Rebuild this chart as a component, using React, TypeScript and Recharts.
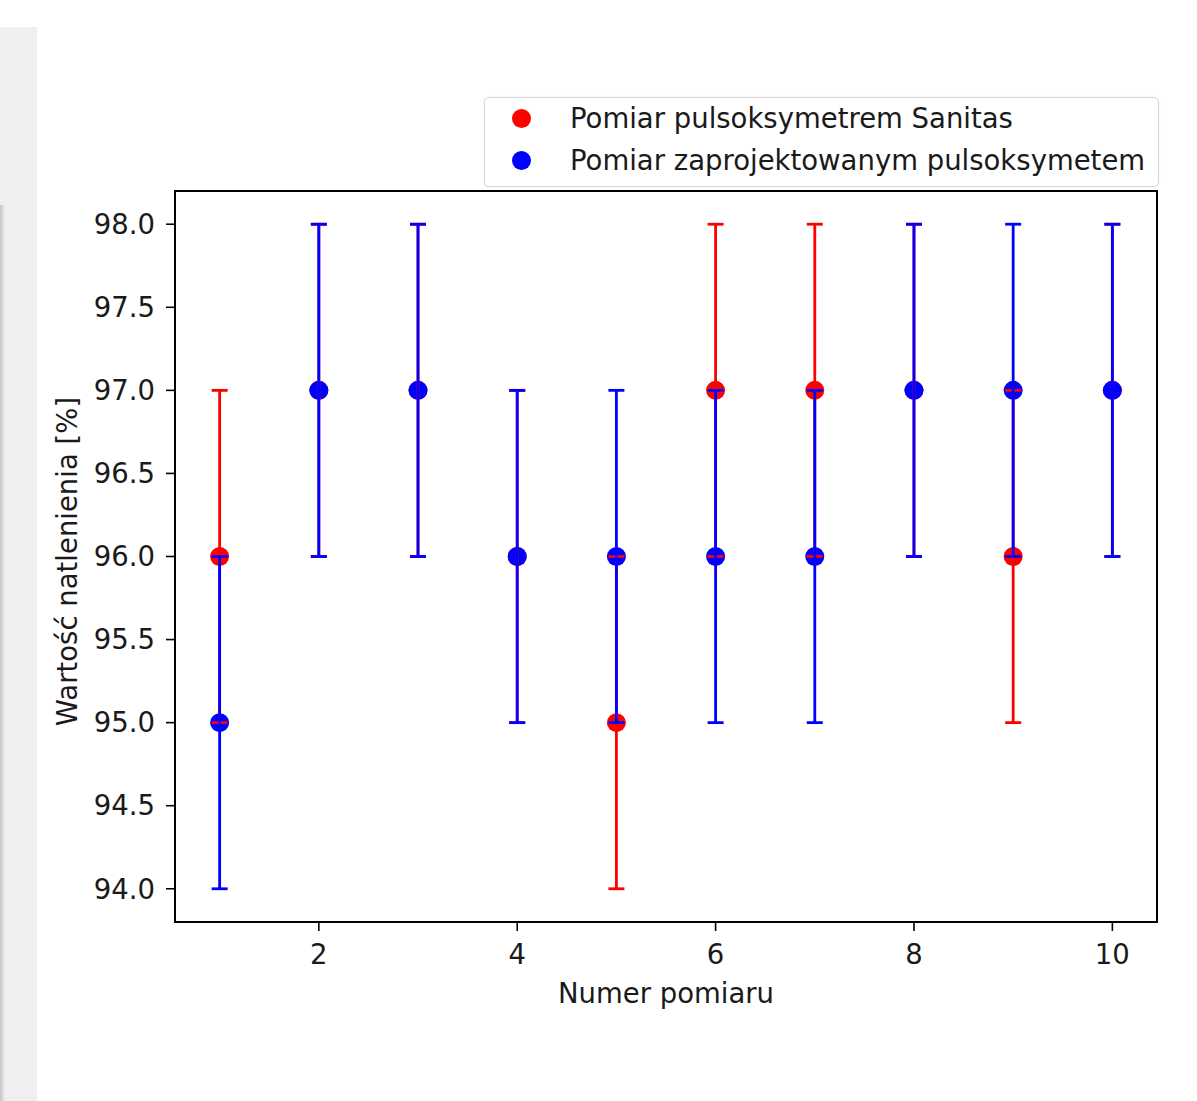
import {
  ComposedChart,
  Scatter,
  ErrorBar,
  XAxis,
  YAxis,
  Legend,
  Label,
  ReferenceArea,
} from "recharts";

// numer pomiaru (1..10)
const measurementNo = [1, 2, 3, 4, 5, 6, 7, 8, 9, 10];
// SpO2 [%] – Sanitas reference device
const sanitasValues = [96, 97, 97, 96, 95, 97, 97, 97, 96, 97];
const sanitasError = [1, 1, 1, 1, 1, 1, 1, 1, 1, 1];
// SpO2 [%] – designed device
const designedValues = [95, 97, 97, 96, 96, 96, 96, 97, 97, 97];
const designedError = [1, 1, 1, 1, 1, 1, 1, 1, 1, 1];

const xTicks = [2, 4, 6, 8, 10];
const yTicks = [94, 94.5, 95, 95.5, 96, 96.5, 97, 97.5, 98];
const xDomain = [0.55, 10.45];
const yDomain = [93.8, 98.2];

const SERIES = [
  { name: "Pomiar pulsoksymetrem Sanitas", color: "#ff0000" },
  { name: "Pomiar zaprojektowanym pulsoksymetem", color: "#0000ff" },
];

const sanitasData = measurementNo.map((x, i) => ({ x, y: sanitasValues[i], err: sanitasError[i] }));
const designedData = measurementNo.map((x, i) => ({ x, y: designedValues[i], err: designedError[i] }));

const FONT = "'DejaVu Sans', Verdana, sans-serif";
const INK = "#1a1a1a";
const FS = 27.5;

const dot = (color: string) => (props: any) =>
  props.cx == null ? <g /> : <circle cx={props.cx} cy={props.cy} r={9.5} fill={color} />;

function YTitle(props: any) {
  const vb = props.viewBox || {};
  const cx = 67;
  const cy = (vb.y ?? 191) + (vb.height ?? 731) / 2 + 5;
  return (
    <text
      x={cx}
      y={cy}
      transform={`rotate(-90 ${cx} ${cy})`}
      textAnchor="middle"
      dominantBaseline="central"
      fontFamily={FONT}
      fontSize={FS}
      fill={INK}
    >
      Wartość natlenienia [%]
    </text>
  );
}

function XTitle(props: any) {
  const vb = props.viewBox || {};
  const cx = (vb.x ?? 175) + (vb.width ?? 982) / 2;
  return (
    <text x={cx} y={1003} textAnchor="middle" fontFamily={FONT} fontSize={FS} fill={INK}>
      Numer pomiaru
    </text>
  );
}

function LegendBox() {
  return (
    <div
      style={{
        width: 673,
        height: 88,
        border: "1px solid #d6d6d6",
        borderRadius: 5,
        background: "#fff",
        boxShadow: "0 0 2px rgba(0,0,0,0.08)",
        fontFamily: FONT,
        fontSize: FS,
        color: INK,
        position: "relative",
      }}
    >
      {SERIES.map((s, i) => (
        <div
          key={s.name}
          style={{ position: "absolute", left: 0, top: 4 + i * 42, height: 32, display: "flex", alignItems: "center" }}
        >
          <span
            style={{
              position: "absolute",
              left: 27,
              width: 19,
              height: 19,
              borderRadius: "50%",
              background: s.color,
            }}
          />
          <span style={{ position: "absolute", left: 85, whiteSpace: "nowrap" }}>{s.name}</span>
        </div>
      ))}
    </div>
  );
}

export default function App() {
  return (
    <div style={{ position: "fixed", left: 0, top: 0, width: 1197, height: 1101, background: "#fff", overflow: "hidden" }}>
      <div
        style={{
          position: "absolute",
          left: 0,
          top: 27,
          width: 37,
          bottom: 0,
          background: "#efefef",
        }}
      />
      <div
        style={{
          position: "absolute",
          left: 0,
          top: 205,
          width: 5,
          bottom: 0,
          background: "linear-gradient(to right, #c4c4c4, #efefef)",
        }}
      />
      <ComposedChart
        width={1197}
        height={1101}
        margin={{ top: 191, right: 40, bottom: 119, left: 75 }}
        style={{ position: "absolute", left: 0, top: 0 }}
      >
        <XAxis
          dataKey="x"
          type="number"
          domain={xDomain}
          ticks={xTicks}
          allowDataOverflow
          axisLine={false}
          tickSize={9}
          tickMargin={13}
          height={60}
          tickLine={{ stroke: "#000", strokeWidth: 1.6 }}
          tick={{ fill: INK, fontSize: FS, fontFamily: FONT }}
        >
          <Label content={XTitle} />
        </XAxis>
        <YAxis
          dataKey="y"
          type="number"
          domain={yDomain}
          ticks={yTicks}
          allowDataOverflow
          axisLine={false}
          tickSize={9}
          tickMargin={11}
          width={100}
          tickFormatter={(v: number) => v.toFixed(1)}
          tickLine={{ stroke: "#000", strokeWidth: 1.6 }}
          tick={{ fill: INK, fontSize: FS, fontFamily: FONT }}
        >
          <Label content={YTitle} />
        </YAxis>
        <ReferenceArea
          x1={xDomain[0]}
          x2={xDomain[1]}
          y1={yDomain[0]}
          y2={yDomain[1]}
          fill="none"
          fillOpacity={0}
          stroke="#000"
          strokeWidth={2}
        />
        <Legend
          layout="vertical"
          align="center"
          verticalAlign="middle"
          content={LegendBox}
          wrapperStyle={{ position: "absolute", left: 484, top: 97, width: 675, height: 90 }}
        />
        <Scatter
          name={SERIES[0].name}
          data={sanitasData}
          fill={SERIES[0].color}
          shape={dot(SERIES[0].color)}
          isAnimationActive={false}
        >
          <ErrorBar dataKey="err" direction="y" width={8} stroke={SERIES[0].color} strokeWidth={2.8} zIndex={700} />
        </Scatter>
        <Scatter
          name={SERIES[1].name}
          data={designedData}
          fill={SERIES[1].color}
          shape={dot(SERIES[1].color)}
          isAnimationActive={false}
        >
          <ErrorBar dataKey="err" direction="y" width={8} stroke={SERIES[1].color} strokeWidth={2.8} zIndex={701} />
        </Scatter>
      </ComposedChart>
    </div>
  );
}
